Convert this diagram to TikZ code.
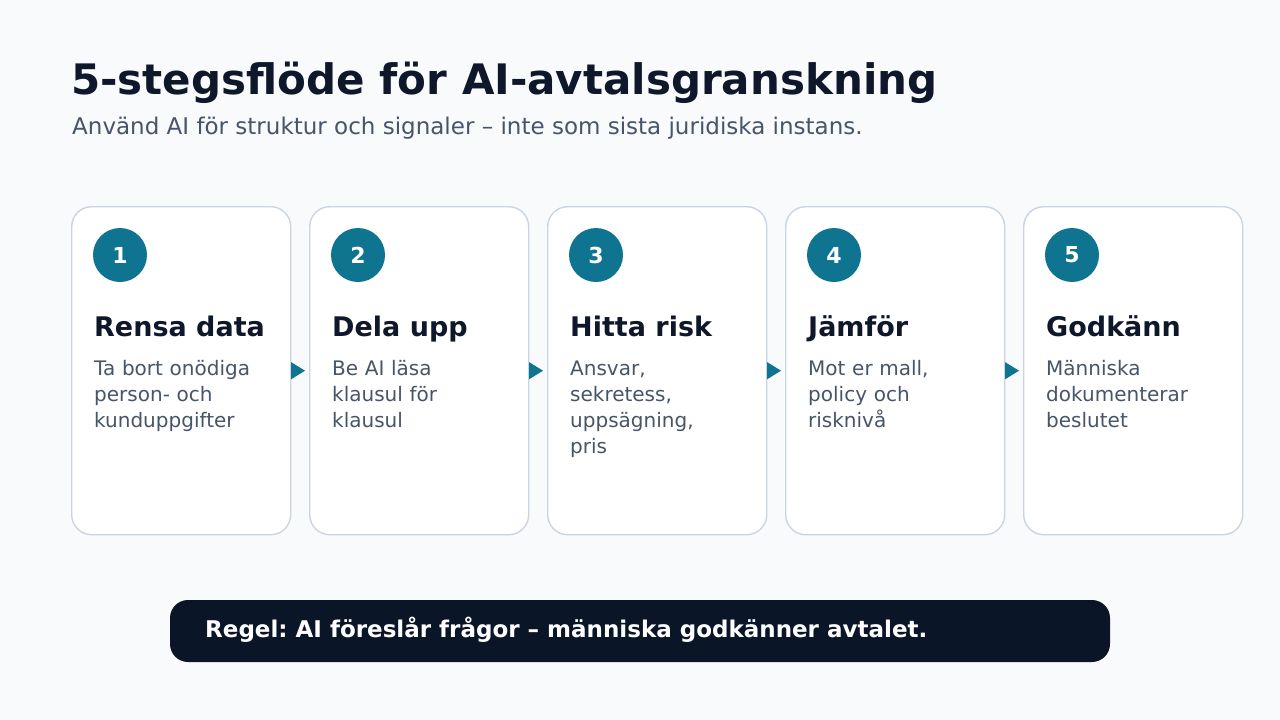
\documentclass[tikz,border=0pt]{standalone}
\usepackage{fontspec}
\setmainfont{DejaVu Sans}
\frenchspacing
\usetikzlibrary{arrows.meta}
\definecolor{pagebg}{HTML}{F8FAFC}
\definecolor{cardline}{HTML}{CBD5E1}
\definecolor{stepteal}{HTML}{0E7490}
\definecolor{inkdark}{HTML}{0F172A}
\definecolor{inkgray}{HTML}{475569}
\definecolor{barnavy}{HTML}{0A1628}
\tikzset{
  card/.style={draw=cardline, line width=1.4pt, fill=white, rounded corners=20pt,
    minimum width=219pt, minimum height=328pt, inner sep=0pt, anchor=north west},
  stepnum/.style={circle, fill=stepteal, minimum size=54pt, inner sep=0pt,
    text=white, font=\fontsize{22}{26}\selectfont\bfseries},
  stephead/.style={anchor=base west, inner sep=0pt, text=inkdark,
    font=\fontsize{27}{32}\selectfont\bfseries},
  stepbody/.style={anchor=base west, inner sep=0pt, text=inkgray, text width=200pt,
    align=left, font=\fontsize{20}{26}\selectfont},
  flowarrow/.style={stepteal, line width=1.2pt, shorten >=4pt,
    -{Triangle[length=14pt,width=17pt]}},
}
\begin{document}
\begin{tikzpicture}[x=1pt,y=-1pt]
		\useasboundingbox[fill=pagebg] (0,0) rectangle (1280,720);

		% Title
		\node[anchor=base west, inner sep=0pt, text=inkdark, font=\fontsize{42}{50}\selectfont\bfseries]
			(title) at (71,94) {5-stegsflöde för AI-avtalsgranskning};
		\node[anchor=base west, inner sep=0pt, text=inkgray, font=\fontsize{23}{28}\selectfont]
			(subtitle) at (72,134) {Använd AI för struktur och signaler – inte som sista juridiska instans.};

		% Steps
		\foreach \i/\head/\body in {%
			1/Rensa data/{Ta bort onödiga\\person- och\\kunduppgifter},
			2/Dela upp/{Be AI läsa\\klausul för\\klausul},
			3/Hitta risk/{Ansvar,\\sekretess,\\uppsägning,\\pris},
			4/Jämför/{Mot er mall,\\policy och\\risknivå},
			5/Godkänn/{Människa\\dokumenterar\\beslutet}} {
			\node[card] (card\i) at ({71+238*(\i-1)},206) {};
			\node[stepnum] (num\i) at ({120+238*(\i-1)},255) {\i};
			\node[stephead] (head\i) at ({94+238*(\i-1)},336) {\head};
			\node[stepbody] (body\i) at ({94+238*(\i-1)},375.5) {\body};
		}

		% Arrows
		\foreach \i [evaluate=\i as \j using int(\i+1)] in {1,...,4}
			\draw[flowarrow] (card\i.east) -- (card\j.west);

		% Rule
		\node[fill=barnavy, rounded corners=18pt, minimum width=940pt, minimum height=62pt, inner sep=0pt]
			(rule) at (640,631) {};
		\node[anchor=base west, inner sep=0pt, text=white, font=\fontsize{23}{28}\selectfont\bfseries]
			(ruletext) at (205,637.5) {Regel: AI föreslår frågor – människa godkänner avtalet.};
	\end{tikzpicture}
\end{document}
